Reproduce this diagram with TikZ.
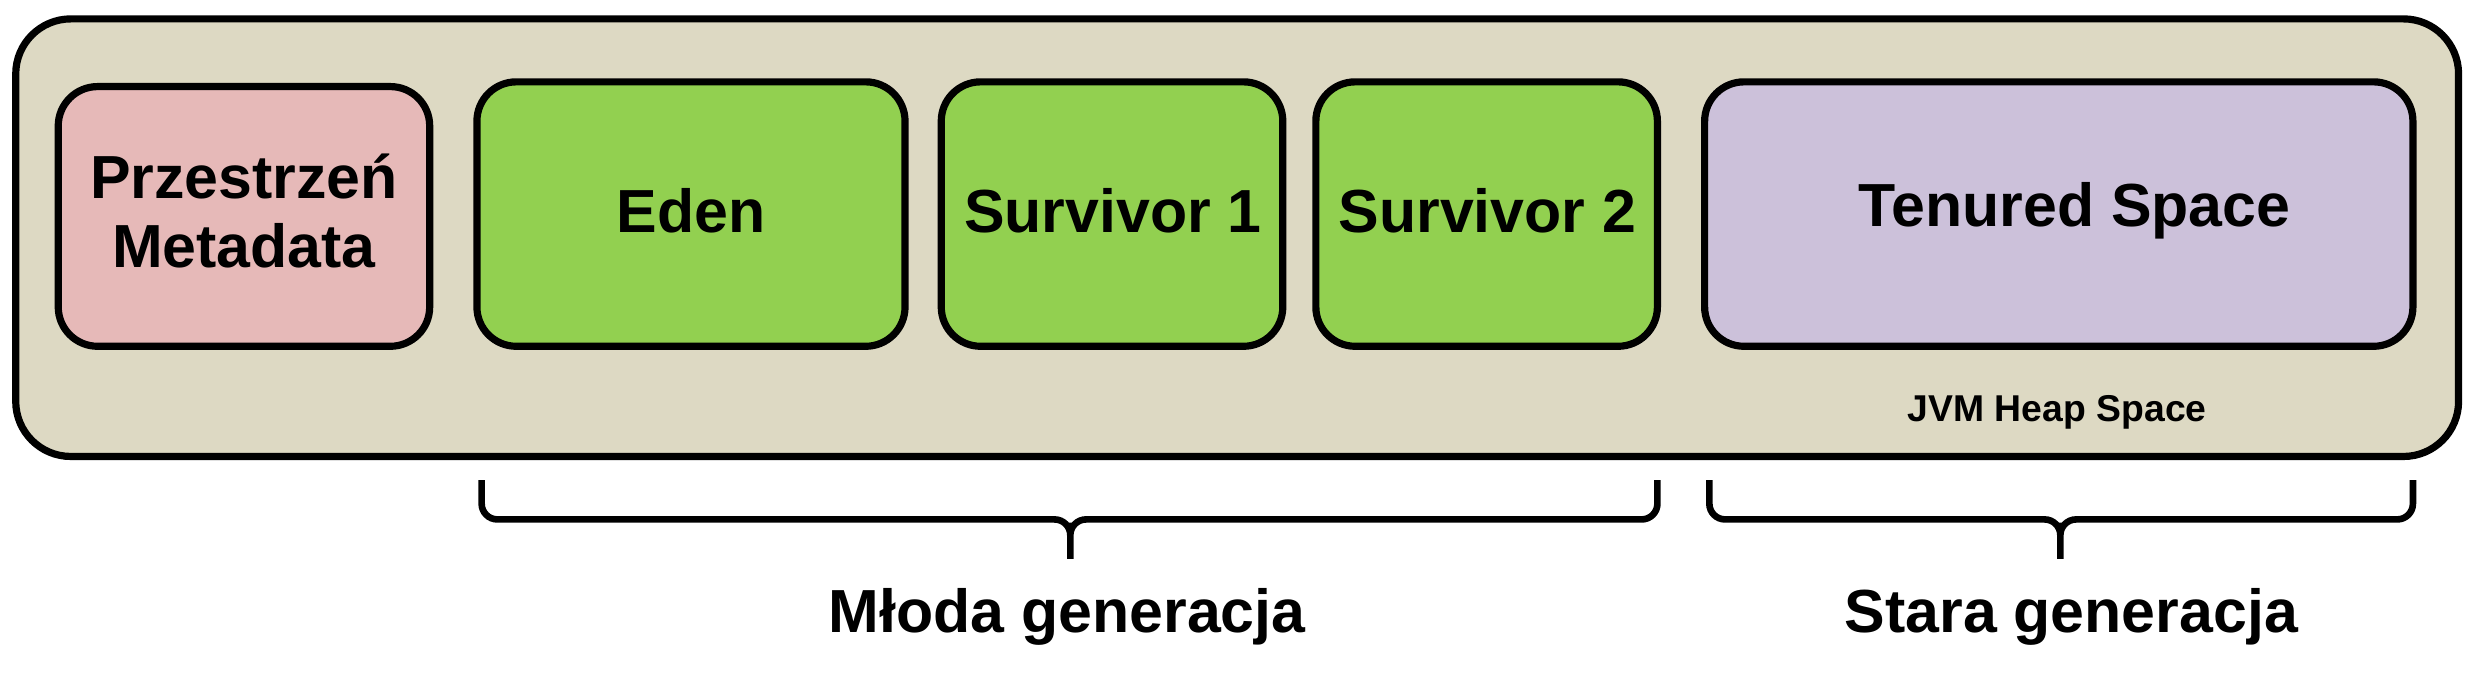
\documentclass[tikz,border=0pt]{standalone}
\usepackage{fontspec}
\setmainfont{Liberation Sans}
\usepackage{tikz}
\definecolor{heapbg}{RGB}{221,217,195}
\definecolor{metapink}{RGB}{230,185,184}
\definecolor{younggreen}{RGB}{146,208,80}
\definecolor{oldpurple}{RGB}{204,193,218}
\tikzset{
  space/.style={draw=black, line width=2.6pt, rounded corners=0.5cm},
  lbl/.style={font=\bfseries\fontsize{22}{25}\selectfont, align=center},
  brace/.style={draw=black, line width=2.4pt, rounded corners=0.2cm}
}
\begin{document}
\begin{tikzpicture}[x=0.02cm, y=-0.02cm]
\useasboundingbox (0,0) rectangle (1568,430);
% heap frame
\draw [space, fill=heapbg, rounded corners=0.7cm] (10,12) rectangle (1562,290);
\node [font=\bfseries\fontsize{13.5}{15}\selectfont] (heap) at (1307,262) {JVM Heap Space};
% spaces
\draw [space, fill=metapink] (37,55) rectangle (273,220);
\node [lbl] (meta) at (155,134) {Przestrzeń\\Metadata};
\draw [space, fill=younggreen] (303,52) rectangle (575,220);
\node [lbl] (eden) at (439,134) {Eden};
\draw [space, fill=younggreen] (598,52) rectangle (815,220);
\node [lbl] (surv1) at (707,134) {Survivor 1};
\draw [space, fill=younggreen] (836,52) rectangle (1053,220);
\node [lbl] (surv2) at (945,134) {Survivor 2};
\draw [space, fill=oldpurple] (1083,52) rectangle (1533,220);
\node [lbl] (tenured) at (1318,134) {Tenured Space};
% generations
\draw [brace] (306,305) -- (306,330) -- (680,330) -- (680,355)
  (680,332) -- (680,330) -- (1053,330) -- (1053,305);
\draw [brace] (1086,305) -- (1086,330) -- (1309,330) -- (1309,355)
  (1309,332) -- (1309,330) -- (1533,330) -- (1533,305);
\node [lbl] (young) at (678,392) {Młoda generacja};
\node [lbl] (old) at (1316,392) {Stara generacja};
\end{tikzpicture}
\end{document}
